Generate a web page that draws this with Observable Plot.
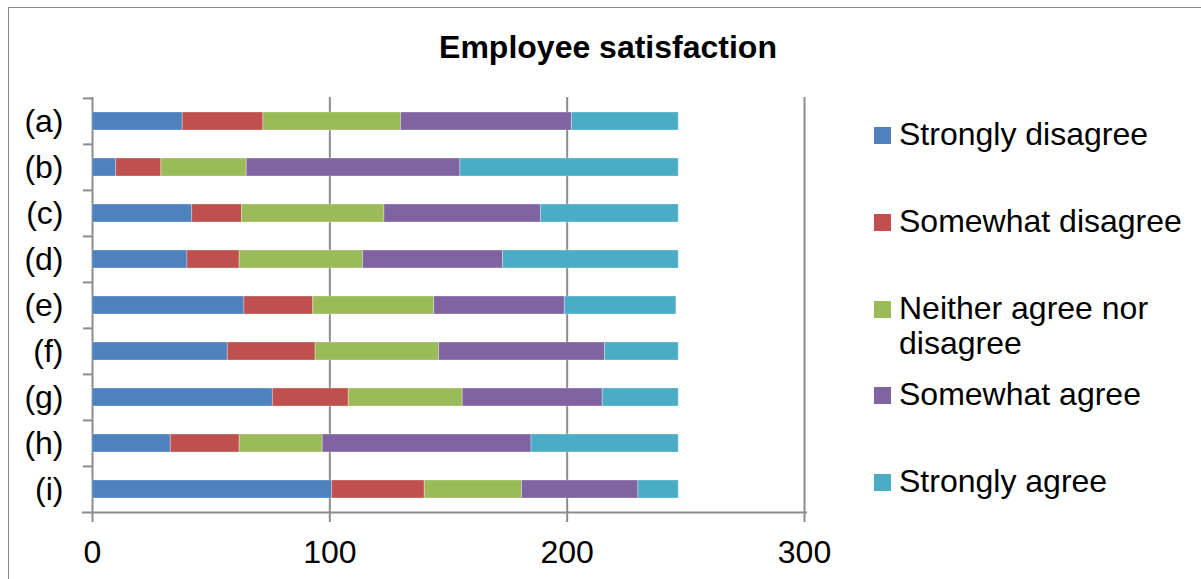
<!DOCTYPE html>
<html>
<head>
<meta charset="utf-8">
<script src="https://cdn.jsdelivr.net/npm/d3@7"></script>
<script src="https://cdn.jsdelivr.net/npm/@observablehq/plot@0.6"></script>
<style>
  html, body { margin: 0; padding: 0; background: #fff; }
  #wrap { position: relative; width: 1201px; height: 579px; overflow: hidden; background: #fff;
          font-family: "Liberation Sans", Arial, sans-serif; color: #000; }
  #border { position: absolute; left: 8px; top: 7px; width: 1400px; height: 800px;
            border: 1.5px solid #8a8a8a; box-sizing: border-box; }
  #chart { position: absolute; left: 0; top: 0; }
  #title { position: absolute; left: 608px; top: 31px; transform: translateX(-50%);
           font-weight: bold; font-size: 32px; line-height: 32px; white-space: nowrap; }
  .item { position: absolute; left: 874px; display: flex; align-items: flex-start; }
  .sw { width: 17px; height: 17px; margin-top: 10px; flex: none; }
  .lab { margin-left: 8px; font-size: 32px; line-height: 35px; width: 295px; }
</style>
</head>
<body>
<div id="wrap">
  <div id="border"></div>
  <div id="chart"></div>
  <div id="title"></div>
  <div id="legend"></div>
</div>
<script>
const title = "Employee satisfaction";
const categories = ["(a)", "(b)", "(c)", "(d)", "(e)", "(f)", "(g)", "(h)", "(i)"];
const responses = ["Strongly disagree", "Somewhat disagree", "Neither agree nor disagree", "Somewhat agree", "Strongly agree"];
const colors = ["#4F81BD", "#C0504D", "#9BBB59", "#8064A2", "#4BACC6"];
const xTicks = [0, 100, 200, 300];

const stronglyDisagree = [38, 10, 42, 40, 64, 57, 76, 33, 101];
const somewhatDisagree = [34, 19, 21, 22, 29, 37, 32, 29, 39];
const neither          = [58, 36, 60, 52, 51, 52, 48, 35, 41];
const somewhatAgree    = [72, 90, 66, 59, 55, 70, 59, 88, 49];
const stronglyAgree    = [45, 92, 58, 74, 47, 31, 32, 62, 17];

const series = [stronglyDisagree, somewhatDisagree, neither, somewhatAgree, stronglyAgree];
const table = [];
categories.forEach((c, i) => {
  responses.forEach((r, j) => table.push({cat: c, response: r, value: series[j][i]}));
});

const W = 1201, H = 579;
const mL = 92, mT = 97, mB = 66, mR = 397;
const step = (H - mT - mB) / categories.length;
const frameW = W - mL - mR;
const gray = "#8c8c8c";

const plot = Plot.plot({
  width: W, height: H,
  marginLeft: mL, marginTop: mT, marginBottom: mB, marginRight: mR,
  style: {fontFamily: "'Liberation Sans', Arial, sans-serif", fontSize: "32px", color: "#000", background: "transparent", overflow: "visible"},
  x: {domain: [0, 300], label: null},
  y: {domain: categories, paddingInner: 0.61, paddingOuter: 0.305, label: null},
  color: {domain: responses, range: colors},
  marks: [
    Plot.ruleX(xTicks, {stroke: gray, strokeWidth: 2}),
    Plot.barX(table, Plot.stackX({x: "value", y: "cat", fill: "response", stroke: "#fff", strokeOpacity: 0.3, strokeWidth: 1})),
    Plot.ruleY(categories, {y: d => d, dy: -step / 2, stroke: gray, strokeWidth: 2, insetLeft: -9, insetRight: frameW}),
    Plot.ruleY([categories[categories.length - 1]], {y: d => d, dy: step / 2, stroke: gray, strokeWidth: 2, insetLeft: -10, insetRight: -3}),
    Plot.axisX({ticks: xTicks, tickSize: 9, tickPadding: 18, stroke: gray, strokeWidth: 2, fontSize: 32, fill: "#000", label: null, tickFormat: d => String(d)}),
    Plot.axisY({tickSize: 0, tickPadding: 29, fontSize: 32, fill: "#000", label: null})
  ]
});
document.getElementById("chart").appendChild(plot);
document.getElementById("title").textContent = title;

const legend = document.getElementById("legend");
responses.forEach((r, i) => {
  const item = document.createElement("div");
  item.className = "item";
  item.style.top = (117 + i * 86.8) + "px";
  const sw = document.createElement("div");
  sw.className = "sw";
  sw.style.background = colors[i];
  const lab = document.createElement("div");
  lab.className = "lab";
  lab.textContent = r;
  item.appendChild(sw);
  item.appendChild(lab);
  legend.appendChild(item);
});
</script>
</body>
</html>
